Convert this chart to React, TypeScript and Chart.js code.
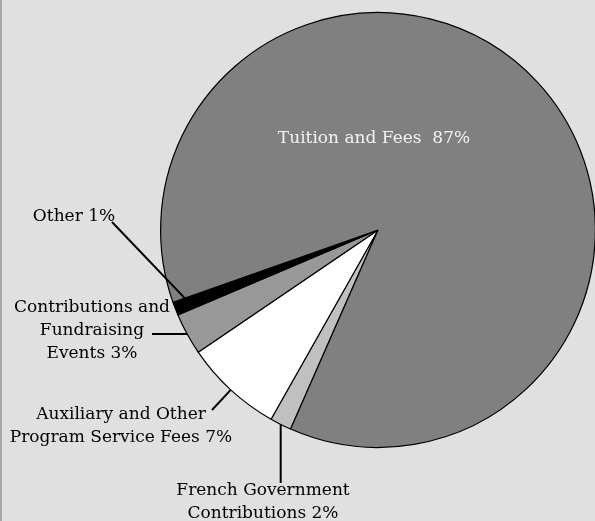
import React, { useEffect, useRef } from "react";
import { Chart, registerables } from "chart.js";

Chart.register(...registerables);

// ---- data ----
const categories = [
  "French Government Contributions",
  "Auxiliary and Other Program Service Fees",
  "Contributions and Fundraising Events",
  "Other",
  "Tuition and Fees",
];
const values = [1.6, 7.3, 3.1, 1.0, 86.8];
const percentLabels = ["2%", "7%", "3%", "1%", "87%"];
const labelLines = [
  ["French Government", "Contributions " + percentLabels[0]],
  ["Auxiliary and Other", "Program Service Fees " + percentLabels[1]],
  ["Contributions and", "Fundraising", "Events " + percentLabels[2]],
  ["Other " + percentLabels[3]],
  ["Tuition and Fees  " + percentLabels[4]],
];

// ---- styles / layout ----
const sliceColors = ["#c0c0c0", "#ffffff", "#989898", "#000000", "#808080"];
const FONT = "17px 'DejaVu Serif'";
const LINE_H = 23;
const TEXT_DY = 2;
// text centre x, first line y, leader outer end, anchor radius ratio
const labelLayout = [
  { tx: 263, ty: 489, ex: null as number | null, ey: 483, r: 1.0, color: "#000" },
  { tx: 121, ty: 413, ex: 212, ey: 410, r: 1.0, color: "#000" },
  { tx: 92, ty: 306, ex: 152, ey: null as number | null, r: 1.0, color: "#000" },
  { tx: 74, ty: 215, ex: 112, ey: 222, r: 0.93, color: "#000" },
  { tx: 0, ty: 0, ex: null, ey: null, r: 0, color: "#f2f2f2" },
];

const labelPlugin = {
  id: "pieLabels",
  afterDraw(chart: any) {
    const ctx = chart.ctx as CanvasRenderingContext2D;
    const meta = chart.getDatasetMeta(0);
    ctx.save();
    ctx.font = FONT;
    ctx.textAlign = "center";
    ctx.textBaseline = "middle";
    meta.data.forEach((arc: any, i: number) => {
      const p = arc.getProps(["x", "y", "startAngle", "endAngle", "outerRadius"], true);
      const L = labelLayout[i];
      if (i === 4) {
        ctx.fillStyle = L.color;
        ctx.fillText(labelLines[i][0], p.x - 4, p.y - 93 + TEXT_DY);
        return;
      }
      const mid = (p.startAngle + p.endAngle) / 2;
      const ax = p.x + Math.cos(mid) * p.outerRadius * L.r;
      const ay = p.y + Math.sin(mid) * p.outerRadius * L.r;
      const ex = L.ex === null ? ax : L.ex;
      const ey = L.ey === null ? ay : L.ey;
      ctx.strokeStyle = "#000";
      ctx.lineWidth = 2;
      ctx.beginPath();
      ctx.moveTo(ex, ey);
      ctx.lineTo(ax, ay);
      ctx.stroke();
      ctx.fillStyle = L.color;
      labelLines[i].forEach((t, k) => ctx.fillText(t, L.tx, L.ty + k * LINE_H + TEXT_DY));
    });
    ctx.restore();
  },
};

export default function App() {
  const ref = useRef<HTMLCanvasElement | null>(null);
  useEffect(() => {
    document.body.style.margin = "0";
    if (!ref.current) return;
    const chart = new Chart(ref.current, {
      type: "pie",
      data: {
        labels: categories,
        datasets: [
          {
            data: values,
            backgroundColor: sliceColors,
            borderColor: "#000",
            borderWidth: 1.2,
          },
        ],
      },
      options: {
        responsive: false,
        animation: false,
        rotation: 203.7,
        layout: { padding: { left: 160, right: 4, top: 12, bottom: 73 } },
        plugins: {
          legend: { display: false },
          tooltip: { enabled: false },
        },
      },
      plugins: [labelPlugin],
    });
    return () => chart.destroy();
  }, []);
  return (
    <div
      style={{
        width: 595,
        height: 521,
        overflow: "hidden",
        background: "#e0e0e0",
        position: "relative",
        boxSizing: "border-box",
        borderLeft: "2px solid #a8a8a8",
      }}
    >
      <canvas
        ref={ref}
        width={600}
        height={521}
        style={{ position: "absolute", left: -2, top: 0, width: 600, height: 521 }}
      />
    </div>
  );
}
